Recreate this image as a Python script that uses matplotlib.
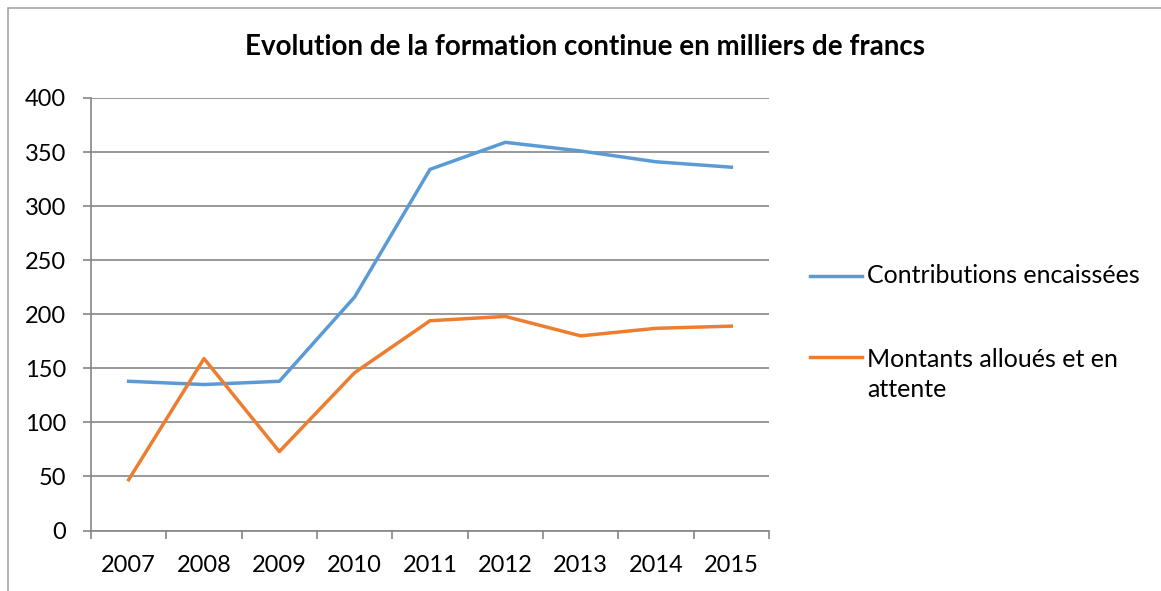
import matplotlib
matplotlib.use('Agg')
import matplotlib.pyplot as plt
from matplotlib.patches import Rectangle
from matplotlib.lines import Line2D

plt.rcParams['font.family'] = ['Lato', 'DejaVu Sans']

# Données
annees = ['2007', '2008', '2009', '2010', '2011', '2012', '2013', '2014', '2015']
contributions = [138, 135, 138, 216, 334, 359, 351, 341, 336]
montants = [47, 159, 73, 146, 194, 198, 180, 187, 189]
y_ticks = [0, 50, 100, 150, 200, 250, 300, 350, 400]

titre = 'Evolution de la formation continue en milliers de francs'
lbl_contrib = 'Contributions encaissées'
lbl_montants = 'Montants alloués et en\nattente'

W, H = 1161, 591
fig = plt.figure(figsize=(W / 100, H / 100), dpi=100)
ax = fig.add_axes([91 / W, 1 - 530.5 / H, (769 - 91) / W, (530.5 - 98) / H])

# cadre extérieur (seuls les bords gauche et haut sont visibles)
fig.patches.append(Rectangle((8 / W, -0.1), 1.2, 1 - 8 / H + 0.1,
                             transform=fig.transFigure, fill=False,
                             edgecolor='#a6a6a6', linewidth=1.2))

x = range(len(annees))
series = [(contributions, '#5B9BD5', lbl_contrib),
          (montants, '#ED7D31', lbl_montants)]
for vals, col, lbl in series:
    ax.plot(x, vals, color=col, linewidth=2.5, label=lbl, solid_joinstyle='round')

ax.set_xlim(-0.5, len(annees) - 0.5)
ax.set_ylim(0, 400)
ax.set_yticks(y_ticks)
ax.set_xticks(list(x))
ax.set_xticklabels(annees)
ax.set_xticks([i - 0.5 for i in range(len(annees) + 1)], minor=True)
ax.tick_params(axis='x', which='major', length=0, pad=18, labelsize=17)
ax.tick_params(axis='x', which='minor', length=6, color='#868686', width=1.2)
ax.tick_params(axis='y', length=6, color='#868686', width=1.2, pad=12, labelsize=17)

ax.grid(axis='y', color='#868686', linewidth=1.2)
ax.set_axisbelow(True)
for s in ['top', 'right']:
    ax.spines[s].set_visible(False)
for s in ['left', 'bottom']:
    ax.spines[s].set_color('#868686')
    ax.spines[s].set_linewidth(1.2)

fig.text(585 / W, 1 - 47 / H, titre, ha='center', va='center',
         fontsize=20, fontweight='bold')

# légende à droite (clé alignée sur la première ligne du texte)
leg_key_y = [276, 357]
leg_base_y = [283, 397]   # ligne de base de la dernière ligne du texte
for (vals, col, lbl), ky, by in zip(series, leg_key_y, leg_base_y):
    fy = 1 - ky / H
    fig.add_artist(Line2D([810 / W, 862 / W], [fy, fy], color=col, linewidth=2.5,
                          transform=fig.transFigure))
    fig.text(867 / W, 1 - by / H, lbl, ha='left', va='baseline', fontsize=18,
             linespacing=1.39, transform=fig.transFigure)

fig.savefig('out.png', dpi=100)
